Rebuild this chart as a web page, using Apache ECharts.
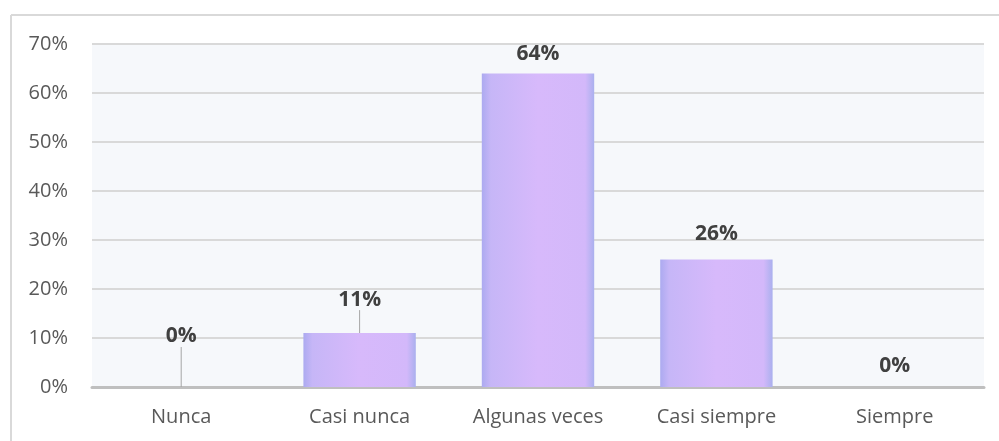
<!DOCTYPE html>
<html>
<head>
<meta charset="utf-8">
<script src="https://cdn.jsdelivr.net/npm/echarts@6/dist/echarts.min.js"></script>
<style>
  html, body { margin: 0; padding: 0; background: #fff; }
  #chart { width: 999px; height: 441px; }
</style>
</head>
<body>
<div id="chart"></div>
<script>
// categories and values (percent)
var arrCategorias = ['Nunca', 'Casi nunca', 'Algunas veces', 'Casi siempre', 'Siempre'];
var arrValores = [0, 11, 64, 26, 0];
var arrTicksY = [0, 10, 20, 30, 40, 50, 60, 70];
// vertical shift of each data label (Excel placed some of them higher)
var arrLabelDy = [-35, -18, -4, -10, -5];

var oChart = echarts.init(document.getElementById('chart'));

var oBarColor = new echarts.graphic.LinearGradient(0, 0, 1, 0, [
    { offset: 0, color: '#acaaf0' },
    { offset: 0.08, color: '#c6b6f7' },
    { offset: 0.5, color: '#d7b9fb' },
    { offset: 0.92, color: '#d3b8fa' },
    { offset: 1, color: '#aab0ee' }
]);

// leader line only where the label was pulled far from the bar
var arrData = arrValores.map(function (v, i) {
    return {
        value: v,
        labelLine: { show: Math.abs(arrLabelDy[i]) > 15 }
    };
});

var option = {
    backgroundColor: '#ffffff',
    animation: false,
    grid: {
        left: 92,
        right: 15,
        top: 44,
        bottom: 54,
        show: true,
        backgroundColor: '#f6f8fb',
        borderWidth: 0
    },
    xAxis: {
        type: 'category',
        data: arrCategorias,
        axisLine: { show: true, lineStyle: { color: '#bfbfbf', width: 3 } },
        axisTick: { show: false },
        axisLabel: {
            color: '#595959',
            fontFamily: 'Open Sans',
            fontSize: 20,
            margin: 20
        }
    },
    yAxis: {
        type: 'value',
        min: arrTicksY[0],
        max: arrTicksY[arrTicksY.length - 1],
        interval: 10,
        axisLine: { show: false },
        axisTick: { show: false },
        splitLine: { lineStyle: { color: '#d9d9d9', width: 2 } },
        axisLabel: {
            color: '#595959',
            fontFamily: 'Open Sans',
            fontSize: 20,
            margin: 24,
            formatter: '{value}%'
        }
    },
    series: [{
        type: 'bar',
        data: arrData,
        barWidth: '63%',
        itemStyle: {
            color: oBarColor,
            borderWidth: 0
        },
        label: {
            show: true,
            position: 'top',
            distance: 5,
            color: '#404040',
            fontFamily: 'Open Sans',
            fontWeight: 'bold',
            fontSize: 21,
            formatter: '{c}%'
        },
        labelLayout: function (params) {
            return { dy: arrLabelDy[params.dataIndex] };
        },
        labelLine: {
            lineStyle: { color: '#a6a6a6', width: 1 }
        }
    }],
    graphic: [
        {
            type: 'line',
            shape: { x1: 11, y1: 15, x2: 999, y2: 15 },
            style: { stroke: '#d9d9d9', lineWidth: 2 }
        },
        {
            type: 'line',
            shape: { x1: 11, y1: 15, x2: 11, y2: 441 },
            style: { stroke: '#d9d9d9', lineWidth: 2 }
        }
    ]
};

oChart.setOption(option);
</script>
</body>
</html>
